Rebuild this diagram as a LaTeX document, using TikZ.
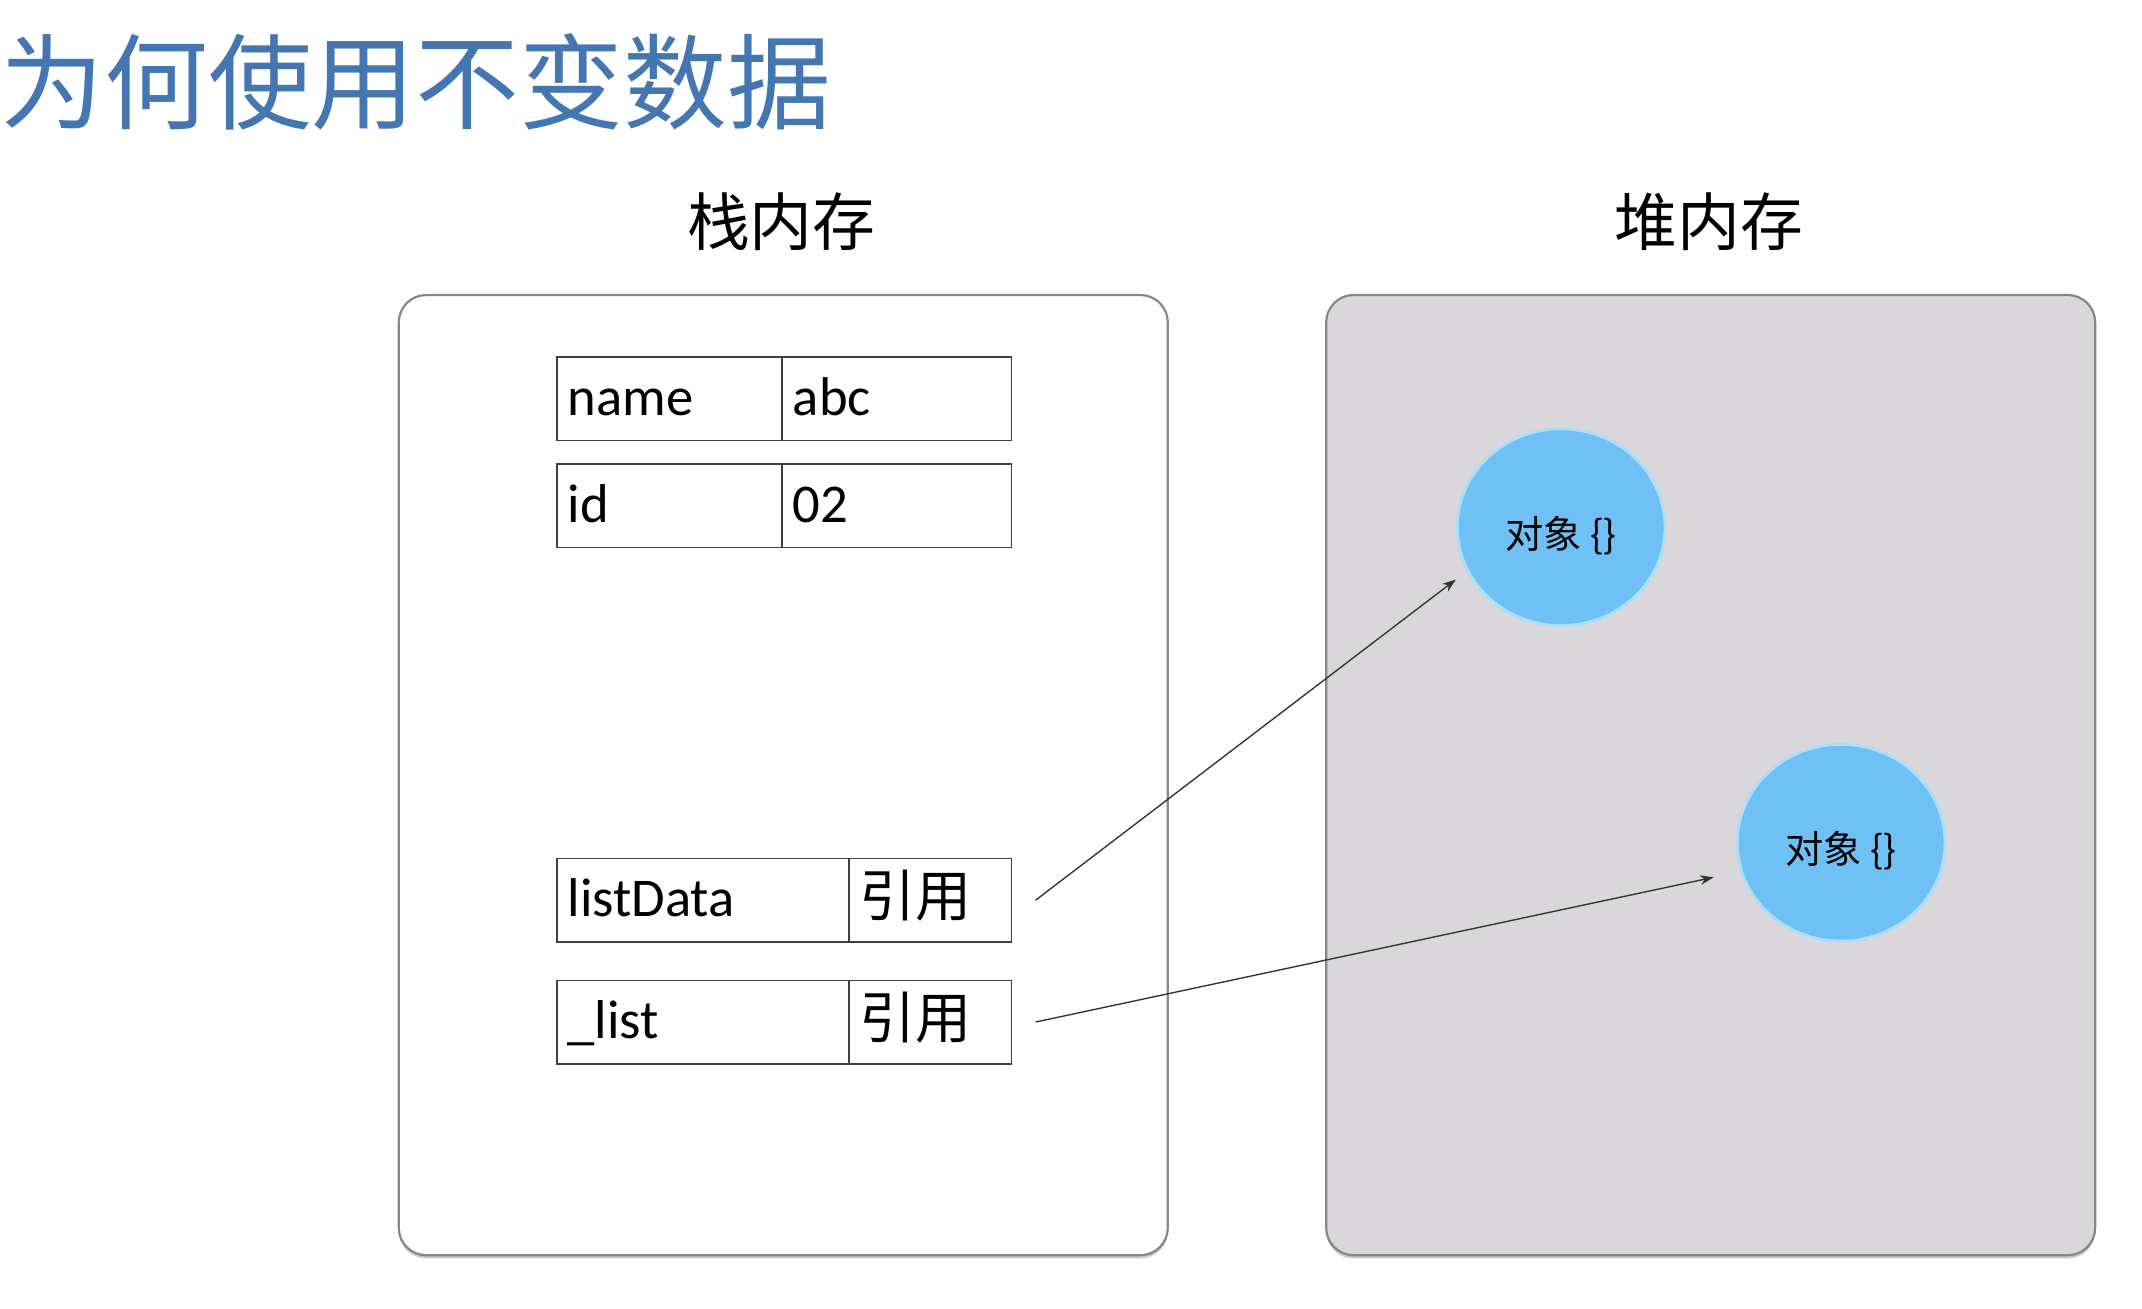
\documentclass[tikz,border=0pt]{standalone}
\usepackage{fontspec}
\setmainfont{Carlito}
\newfontfamily\cjk{Noto Sans CJK SC}
\usetikzlibrary{shapes,arrows.meta,positioning,shadows}
\definecolor{titleblue}{RGB}{68,119,178}
\definecolor{heapgray}{RGB}{217,215,218}
\definecolor{objblue}{RGB}{110,192,245}
\definecolor{objrim}{RGB}{170,222,250}
\definecolor{framegray}{RGB}{135,135,135}

\begin{document}
\begin{tikzpicture}[x=0.5pt,y=0.5pt,
  cell/.style={draw=black!75, line width=0.6pt, text width=#1, inner xsep=4pt, inner ysep=0pt,
    minimum height=30.5pt, text height=15.5pt, text depth=3.5pt, align=left,
    font=\fontsize{20}{24}\selectfont},
  reftxt/.style={font=\cjk\fontsize{20.5}{24}\selectfont},
  memframe/.style={draw=framegray, line width=0.8pt, rounded corners=10pt,
    minimum width=281.5pt, minimum height=351.5pt,
    drop shadow={shadow xshift=0pt, shadow yshift=-1.2pt, opacity=0.35, fill=black!60}},
  memlabel/.style={font=\cjk\fontsize{23}{28}\selectfont},
  obj/.style={ellipse, fill=objblue, draw=objrim, line width=1pt, minimum width=76pt,
    minimum height=72pt, text height=15.5pt, text depth=0pt, font=\cjk\fontsize{14}{16}\selectfont},
  ref/.style={draw=black!80, line width=0.5pt, -{Stealth[length=5pt,width=3.5pt]}}]
\useasboundingbox (0,0) rectangle (1568.3,-957.7);

\node[anchor=west, inner sep=0pt, text=titleblue, font=\cjk\fontsize{38}{44}\selectfont] (title) at (0,-60) {为何使用不变数据};

% stack and heap
\node[memframe, fill=white] (stack) at (573.5,-567.5) {};
\node[memframe, fill=heapgray] (heap) at (1252.5,-567.5) {};
\node[memlabel] (stacklabel) at (572,-162) {栈内存};
\node[memlabel] (heaplabel) at (1251,-162) {堆内存};

% stack entries
\node[cell=74.5pt, anchor=north west] (name) at (407,-261) {name};
\node[cell=76pt, right=-0.6pt of name] (nameval) {abc};
\node[cell=74.5pt, below=8pt of name] (id) {id};
\node[cell=76pt, right=-0.6pt of id] (idval) {02};
\node[cell=99pt, anchor=north west] (listdata) at (407,-628) {listData};
\node[cell=51.5pt, reftxt, right=-0.6pt of listdata] (listref) {引用};
\node[cell=99pt, below=13.5pt of listdata] (list) {\_list};
\node[cell=51.5pt, reftxt, right=-0.6pt of list] (listref2) {引用};

% heap objects
\node[obj] (obj1) at (1143,-386) {对象 \{\}};
\node[obj] (obj2) at (1348,-617) {对象 \{\}};

\coordinate (p1) at ([xshift=8.5pt]listref.east);
\coordinate (p2) at ([xshift=8.5pt]listref2.east);
\draw[ref, shorten >=5pt] (p1) -- (obj1.205);
\draw[ref, shorten >=10pt] (p2) -- (obj2.196);
\end{tikzpicture}
\end{document}
